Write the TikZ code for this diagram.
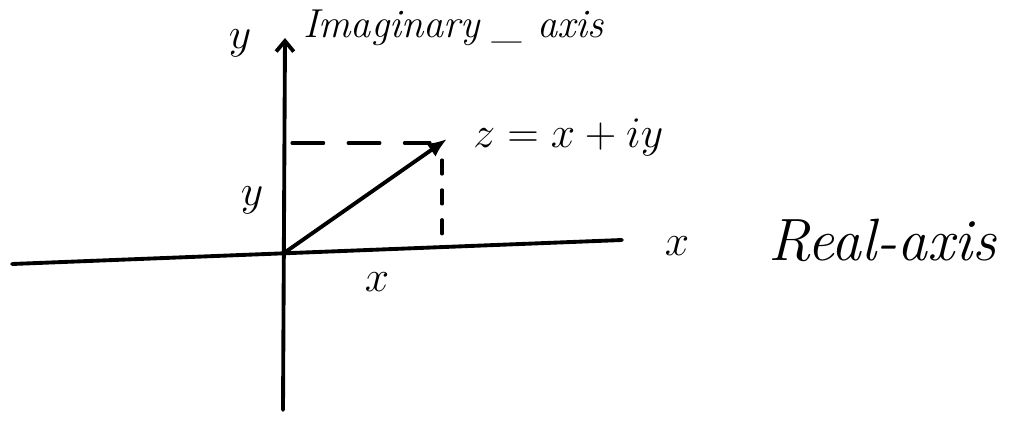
\documentclass[tikz,border=0pt]{standalone}
\usepackage{amsmath}
\usepackage{tikz}
\usetikzlibrary{arrows.meta}

\begin{document}
\begin{tikzpicture}[
  x=0.02cm,y=0.02cm,
  line cap=round,
  line join=round,
  >=Latex,
  axis/.style={draw=black,line width=2.2pt},
  vec/.style={draw=black,line width=2.2pt,-{Latex[length=11pt,width=9pt]}},
  projh/.style={draw=black,line width=1.8pt,dash pattern=on 18pt off 14pt},
  projv/.style={draw=black,line width=1.8pt,dash pattern=on 8pt off 9pt},
  lbl/.style={font=\fontsize{28}{32}\selectfont},
  word/.style={font=\fontsize{34}{40}\selectfont\itshape,anchor=base west,inner sep=0pt}
]

\useasboundingbox (-284,-167) rectangle (732,253);

% axes
\coordinate (O)  at (0,0);
\coordinate (xl) at (-272,-11);
\coordinate (xr) at (338,13);
\coordinate (yb) at (-1,-157);
\coordinate (yt) at (1,215);

\draw[axis] (xl) -- (xr);
\draw[axis,-{Straight Barb[length=6pt,width=10pt]}] (yb) -- (yt);

% the point z and its projections
\coordinate (z)  at (163,114);
\coordinate (zh) at (146,110);
\coordinate (zy) at (8,110);
\coordinate (zv) at (158,93);
\coordinate (zx) at (158,6);

\draw[vec] (O) -- (z);
\draw[projh] (zy) -- (zh);
\draw[projv] (zv) -- (zx);

% labels
\node[lbl] (ytop) at (-44,210) {$y$};
\node[word,font=\fontsize{23}{28}\selectfont\itshape] (imag) at (19,216) {Imaginary \_ axis};
\node[lbl] (ylen) at (-32,53) {$y$};
\node[lbl] (xlen) at (93,-29) {$x$};
\node[lbl,anchor=base west,inner sep=0pt] (zlab) at (189,106) {$z = x + iy$};
\node[lbl] (xaxis) at (393,7) {$x$};
\node[word] (real) at (484,-7) {Real-axis};

\end{tikzpicture}
\end{document}
